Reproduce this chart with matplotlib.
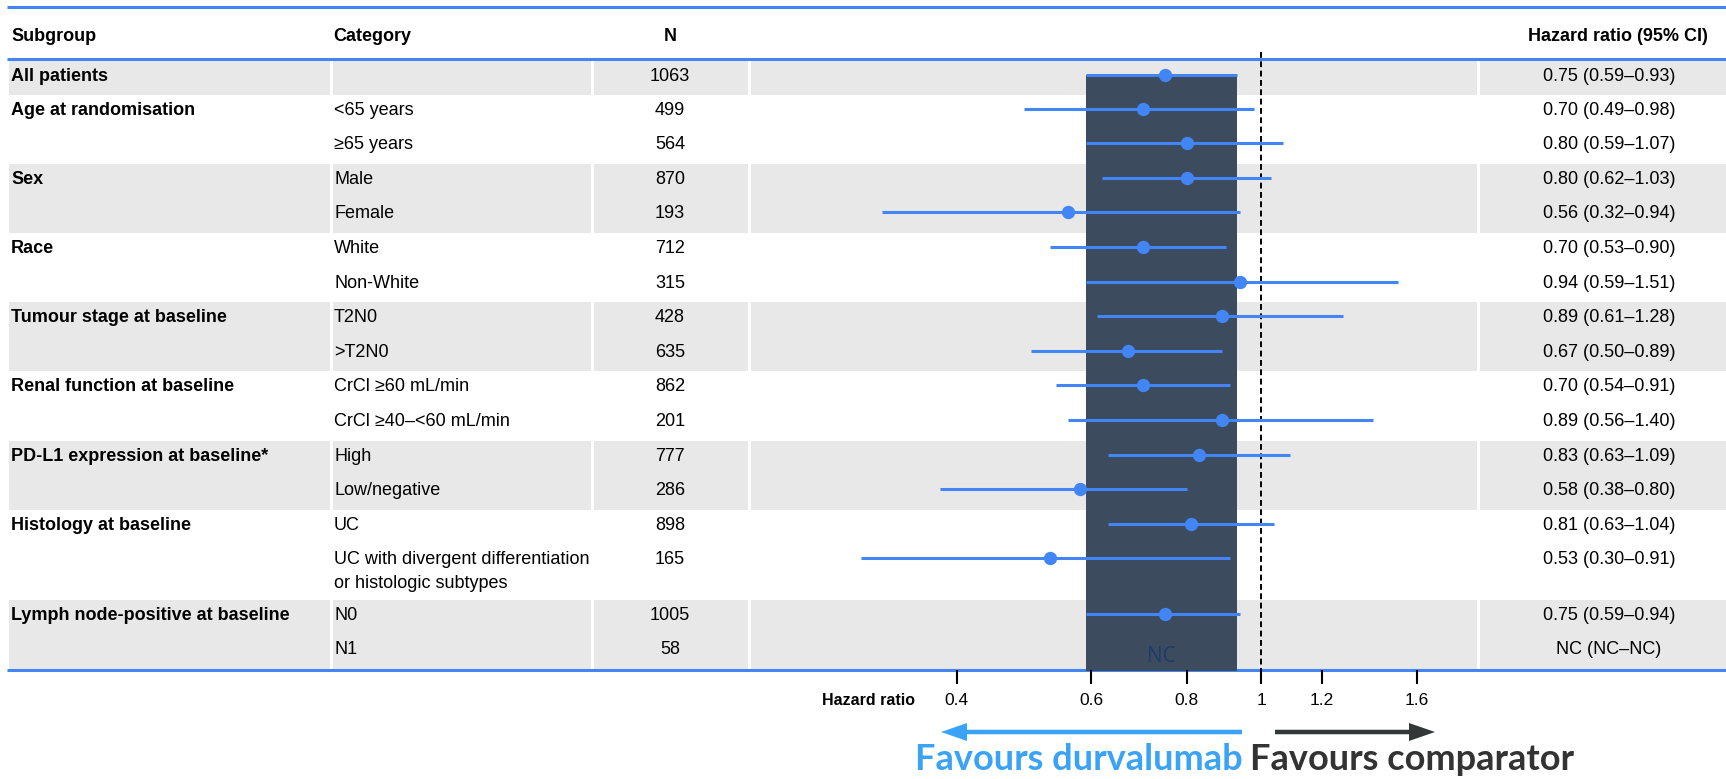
import numpy as np
import matplotlib.pyplot as plt
from matplotlib.patches import Rectangle, FancyArrow

plt.rcParams['font.family'] = ['Liberation Sans', 'DejaVu Sans']

# subgroup table
subgroups = ["All patients", "Age at randomisation", "", "Sex", "", "Race", "",
             "Tumour stage at baseline", "", "Renal function at baseline", "",
             "PD-L1 expression at baseline*", "", "Histology at baseline", "",
             "Lymph node-positive at baseline", ""]
categories = ["", "<65 years", "≥65 years", "Male", "Female", "White", "Non-White",
              "T2N0", ">T2N0", "CrCl ≥60 mL/min", "CrCl ≥40–<60 mL/min", "High",
              "Low/negative", "UC",
              "UC with divergent differentiation\nor histologic subtypes", "N0", "N1"]
n_patients = [1063, 499, 564, 870, 193, 712, 315, 428, 635, 862, 201, 777, 286, 898, 165, 1005, 58]
hr = [0.75, 0.70, 0.80, 0.80, 0.56, 0.70, 0.94, 0.89, 0.67, 0.70, 0.89, 0.83, 0.58, 0.81, 0.53, 0.75, np.nan]
ci_low = [0.59, 0.49, 0.59, 0.62, 0.32, 0.53, 0.59, 0.61, 0.50, 0.54, 0.56, 0.63, 0.38, 0.63, 0.30, 0.59, np.nan]
ci_high = [0.93, 0.98, 1.07, 1.03, 0.94, 0.90, 1.51, 1.28, 0.89, 0.91, 1.40, 1.09, 0.80, 1.04, 0.91, 0.94, np.nan]
group_sizes = [1, 2, 2, 2, 2, 2, 2, 2, 2]
xticks = [0.4, 0.6, 0.8, 1, 1.2, 1.6]
xtick_labels = ["0.4", "0.6", "0.8", "1", "1.2", "1.6"]


def hr_label(h, lo, hi):
    if np.isnan(h):
        return "NC (NC–NC)"
    return f"{h:.2f} ({lo:.2f}–{hi:.2f})"


# canvas in pixels
W, H = 1726, 779
BLUE = '#4285f4'
GREY = '#e8e8e8'
FS = 13
LINE_GAP = 23.3

fig = plt.figure(figsize=(W / 100, H / 100), dpi=100)
bg = fig.add_axes([0, 0, 1, 1])
bg.set_xlim(0, W)
bg.set_ylim(H, 0)
bg.axis('off')

# table columns: subgroup, category, N, plot, HR text
cols = [(8.5, 330), (333, 591), (594, 748), (751, 1477), (1480, W)]

# row geometry
row_h = np.full(len(categories), 34.6)
row_h[0] = 33.5
row_h[14] = 55.5
table_top = 61
tops = table_top + np.concatenate([[0], np.cumsum(row_h)[:-1]])
table_bottom = table_top + row_h.sum()
mid_y = tops + 14
base_y = tops + 20

# alternating group bands
start = 0
for g, size in enumerate(group_sizes):
    y0 = tops[start]
    y1 = tops[start + size - 1] + row_h[start + size - 1]
    if g % 2 == 0:
        for x0, x1 in cols:
            bg.add_patch(Rectangle((x0, y0), x1 - x0, y1 - y0, color=GREY, lw=0, zorder=0))
    start += size

# rules
for y in (6.5, 58.5, table_bottom + 1):
    bg.hlines(y, 7, W, color=BLUE, lw=2.2, zorder=2)

# header
bg.text(11, 41, "Subgroup", fontsize=FS, fontweight='bold', va='baseline')
bg.text(333, 41, "Category", fontsize=FS, fontweight='bold', va='baseline')
bg.text(670, 41, "N", fontsize=FS, fontweight='bold', va='baseline', ha='center')
bg.text(1708, 41, "Hazard ratio (95% CI)", fontsize=FS, fontweight='bold',
        va='baseline', ha='right')

# table body
for i in range(len(categories)):
    if subgroups[i]:
        bg.text(11, base_y[i], subgroups[i], fontsize=FS, fontweight='bold', va='baseline')
    for k, line in enumerate(categories[i].split('\n')):
        bg.text(334, base_y[i] + k * LINE_GAP, line, fontsize=FS, va='baseline')
    bg.text(670, base_y[i], str(n_patients[i]), fontsize=FS, va='baseline', ha='center')
    bg.text(1609, base_y[i], hr_label(hr[i], ci_low[i], ci_high[i]),
            fontsize=FS, va='baseline', ha='center')

# forest panel on a log scale
px_per_log = 332.2
x_one = 1261
fa = fig.add_axes([cols[3][0] / W, 0, (cols[3][1] - cols[3][0]) / W, 1])
fa.set_xscale('log')
fa.set_xlim(np.exp((cols[3][0] - x_one) / px_per_log), np.exp((cols[3][1] - x_one) / px_per_log))
fa.set_ylim(H, 0)
fa.axis('off')
fa.patch.set_visible(False)

# overall CI band
fa.add_patch(Rectangle((ci_low[0], mid_y[0]), ci_high[0] - ci_low[0],
                       table_bottom + 2 - mid_y[0], color='#3d4b5e', lw=0, zorder=1))
fa.text(np.sqrt(ci_low[0] * ci_high[0]), 662, "NC", ha='center', va='baseline',
        fontsize=15, color='#203a6b', family=['Open Sans', 'DejaVu Sans'], zorder=2)

fa.vlines(1, 52, table_bottom + 2, colors='black', lw=1.4, linestyles=(0, (3.0, 1.8)), zorder=2)
fa.hlines(mid_y, ci_low, ci_high, colors=BLUE, lw=2.2, zorder=3)
fa.plot(hr, mid_y, 'o', ms=9.6, color=BLUE, mec='none', zorder=4)

# x axis
fa.vlines(xticks, table_bottom + 1, table_bottom + 15, colors='black', lw=1.5)
for t, lab in zip(xticks, xtick_labels):
    fa.text(t, 705, lab, ha='center', va='baseline', fontsize=12.5)
bg.text(915, 705, "Hazard ratio", ha='right', va='baseline', fontsize=11.5, fontweight='bold')

# direction arrows
bg.add_patch(FancyArrow(1242, 732, 941 - 1242, 0, width=4.5, head_width=18, head_length=26,
                        length_includes_head=True, color='#3aa3f5', lw=0))
bg.add_patch(FancyArrow(1275, 732, 1435 - 1275, 0, width=4.5, head_width=18, head_length=26,
                        length_includes_head=True, color='#333738', lw=0))
bg.text(1243, 770, "Favours durvalumab", ha='right', va='baseline', fontsize=26,
        fontweight='bold', color='#3aa3f5', family=['Lato', 'DejaVu Sans'])
bg.text(1250, 770, "Favours comparator", ha='left', va='baseline', fontsize=26,
        fontweight='bold', color='#333333', family=['Lato', 'DejaVu Sans'])

fig.savefig('out.png', dpi=100)
